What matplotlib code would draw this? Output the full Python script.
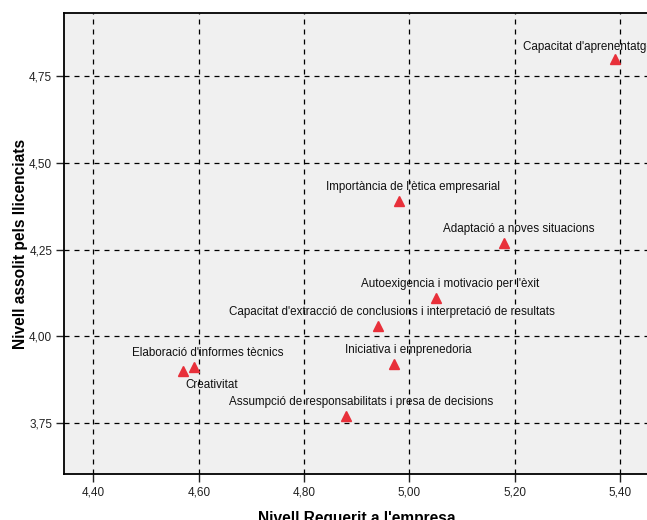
import matplotlib
matplotlib.use('Agg')
import matplotlib.pyplot as plt
from matplotlib.ticker import FuncFormatter

plt.rcParams['font.family'] = ['Liberation Sans', 'DejaVu Sans']

# competencies: required level (x) vs achieved level (y)
labels = [
    "Capacitat d'aprenentatge",
    "Importància de l'ètica empresarial",
    "Adaptació a noves situacions",
    "Autoexigencia i motivacio per l'èxit",
    "Capacitat d'extracció de conclusions i interpretació de resultats",
    "Iniciativa i emprenedoria",
    "Elaboració d'informes tècnics",
    "Creativitat",
    "Assumpció de responsabilitats i presa de decisions",
]
req = [5.39, 4.98, 5.18, 5.05, 4.94, 4.97, 4.59, 4.57, 4.88]
ach = [4.80, 4.39, 4.27, 4.11, 4.03, 3.92, 3.91, 3.90, 3.77]

xticks = [4.40, 4.60, 4.80, 5.00, 5.20, 5.40]
yticks = [3.75, 4.00, 4.25, 4.50, 4.75]

fig = plt.figure(figsize=(6.47, 5.2), dpi=100)
ax = fig.add_axes([64 / 647, 45.7 / 520, 586 / 647, 461.3 / 520])
ax.set_facecolor('#f0f0f0')

ax.set_xlim(4.344, 5.457)
ax.set_ylim(3.602, 4.932)
ax.set_xticks(xticks)
ax.set_yticks(yticks)
comma = FuncFormatter(lambda v, p: ('%.2f' % v).replace('.', ','))
ax.xaxis.set_major_formatter(comma)
ax.yaxis.set_major_formatter(comma)
ax.tick_params(direction='out', length=5.5, width=1, labelsize=8.5, colors='#222222', pad=3)
ax.grid(True, color='black', linestyle=(0, (4, 4)), linewidth=0.9)
ax.set_axisbelow(True)
for s in ['left', 'bottom', 'top']:
    ax.spines[s].set_linewidth(1.3)
ax.spines['right'].set_visible(False)

ax.plot(req, ach, linestyle='none', marker='^', markersize=7,
        color='#e8303a', zorder=3)

for i, lab in enumerate(labels):
    ha = 'center'
    off = (14.5, 14)
    if lab == "Creativitat":
        off = (29, -14)
    if i == 0:
        ha = 'left'
        off = (-92, 11.5)
    ax.annotate(lab, (req[i], ach[i]), xytext=off, textcoords='offset pixels',
                ha=ha, va='center', fontsize=8.4, color='#111111', zorder=4)

ax.set_xlabel("Nivell Requerit a l'empresa", fontsize=11.2, fontweight='bold', labelpad=9.5)
ax.set_ylabel("Nivell assolit pels llicenciats", fontsize=11.2, fontweight='bold', labelpad=1)

fig.savefig('out.png', dpi=100)
